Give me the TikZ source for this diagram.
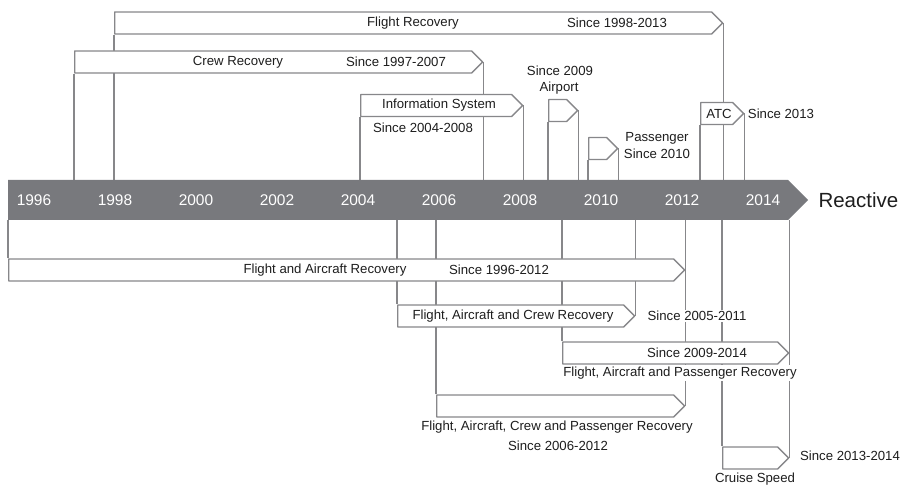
\documentclass[tikz,border=0pt]{standalone}
\usepackage{fontspec}
\setmainfont{Liberation Sans}
\usetikzlibrary{shapes.symbols,backgrounds}
\definecolor{linegray}{RGB}{135,135,138}
\definecolor{bargray}{RGB}{120,121,125}
\definecolor{txtgray}{RGB}{30,30,30}
\begin{document}
\begin{tikzpicture}[x=1pt, y=-1pt, line join=round, font=\fontsize{13.2}{15}\selectfont,
    tbox/.style={signal, signal to=east, signal pointer angle=90, draw=linegray, fill=white, line width=1.3pt, inner sep=0pt, minimum height=22pt, anchor=west},
    lbl/.style={text=txtgray, fill=white, inner sep=1.5pt},
    conn/.style={draw=linegray, line width=1.3pt}]
    \useasboundingbox (0,0) rectangle (900,486);
    % timeline bar
    \node[signal, signal to=east, signal pointer angle=90, fill=bargray, inner sep=0pt, minimum width=800pt, minimum height=40pt, anchor=west] (bar) at (8,200) {};
    \foreach \yr [count=\i from 0] in {1996,1998,...,2014}
        \node[text=white, font=\fontsize{15.5}{17}\selectfont] (y\yr) at (34+81*\i,200) {\yr};
    \node[anchor=west, text=txtgray, font=\fontsize{20.5}{23}\selectfont] (reac) at (815,200) {Reactive};
    % above the bar
    \node[tbox, minimum width=608pt] (fr) at (114,23) {};
    \node[tbox, minimum width=408pt] (cr) at (74,62) {};
    \node[tbox, minimum width=162pt] (is) at (360,105.5) {};
    \node[tbox, minimum width=29pt] (ap) at (548,110.5) {};
    \node[tbox, minimum width=29pt] (pa) at (588,148.5) {};
    \node[tbox, minimum width=43pt] (atc) at (700,113.5) {};
    % below the bar
    \node[tbox, minimum width=676pt] (fa) at (8,270) {};
    \node[tbox, minimum width=237pt] (fac) at (397,316) {};
    \node[tbox, minimum width=226pt] (fap) at (562,353) {};
    \node[tbox, minimum width=248pt] (facp) at (436,406) {};
    \node[tbox, minimum width=66pt] (cs) at (722,458) {};
    \begin{pgfonlayer}{background}
        \foreach \b in {fr,cr,is,ap,pa,atc}{
            \draw[conn] (\b.south west) -- (\b.south west |- bar.north);
            \draw[conn] (\b.east) -- (\b.east |- bar.north);
        }
        \foreach \b in {fa,fac,fap,facp,cs}{
            \draw[conn] (\b.north west) -- (\b.north west |- bar.south);
            \draw[conn] (\b.east) -- (\b.east |- bar.south);
        }
    \end{pgfonlayer}
    % labels
    \node[lbl] (lfr) at (413,23) {Flight Recovery};
    \node[lbl] (sfr) at (617,23) {Since 1998-2013};
    \node[lbl] (lcr) at (238,62) {Crew Recovery};
    \node[lbl] (scr) at (396,62) {Since 1997-2007};
    \node[lbl] (lis) at (439,105.5) {Information System};
    \node[lbl] (sis) at (423,128) {Since 2004-2008};
    \node[lbl] (sap) at (560,71) {Since 2009};
    \node[lbl] (lap) at (559,88) {Airport};
    \node[lbl] (lpa) at (657,138) {Passenger};
    \node[lbl] (spa) at (657,154) {Since 2010};
    \node[lbl] (latc) at (719,113.5) {ATC};
    \node[lbl] (satc) at (781,113.5) {Since 2013};
    \node[lbl] (lfa) at (325,270) {Flight and Aircraft Recovery};
    \node[lbl] (sfa) at (499,270) {Since 1996-2012};
    \node[lbl] (lfac) at (513,316) {Flight, Aircraft and Crew Recovery};
    \node[lbl] (sfac) at (697,316) {Since 2005-2011};
    \node[lbl] (sfap) at (697,353) {Since 2009-2014};
    \node[lbl] (lfap) at (680,373) {Flight, Aircraft and Passenger Recovery};
    \node[lbl] (lfacp) at (557,427) {Flight, Aircraft, Crew and Passenger Recovery};
    \node[lbl] (sfacp) at (558,446) {Since 2006-2012};
    \node[lbl] (scs) at (850,456) {Since 2013-2014};
    \node[lbl] (lcs) at (755,479) {Cruise Speed};
\end{tikzpicture}
\end{document}
